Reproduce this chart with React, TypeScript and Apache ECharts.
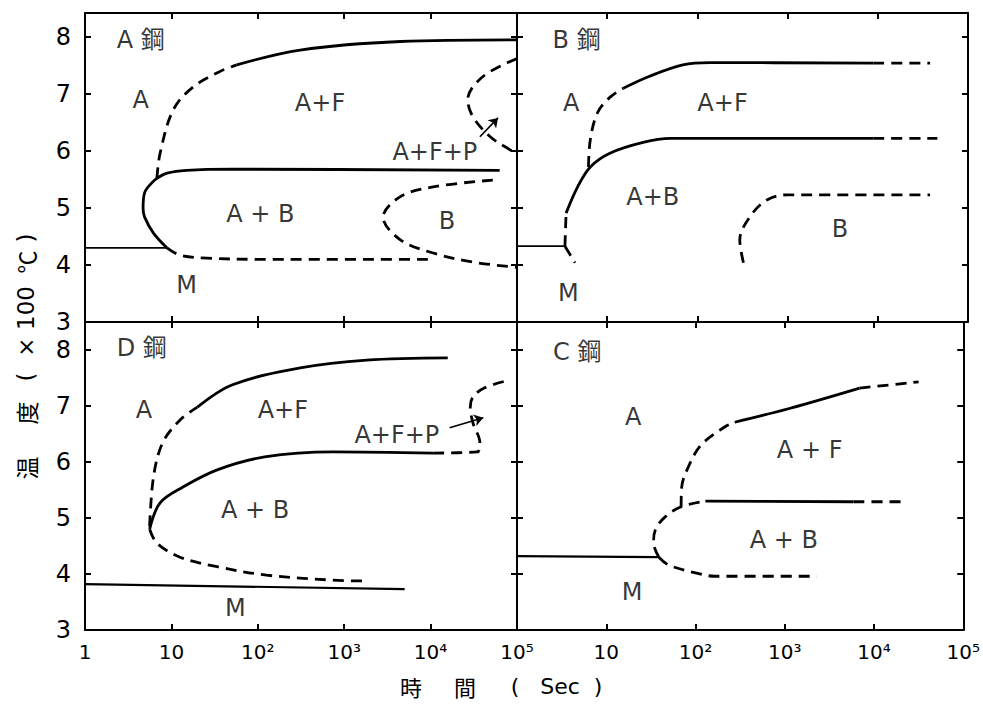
import React, { useEffect, useRef } from "react";
import * as echarts from "echarts";

// ---------- data (time in seconds, temperature in x100 °C) ----------
const TIME_TICK_LABELS = ["1", "10", "10²", "10³", "10⁴", "10⁵"];
const TEMP_TICKS = [3, 4, 5, 6, 7, 8];

// A steel
const A_MS = [[1, 4.3], [8.9, 4.3]];
const A_BS = [[8.9, 4.3], [6.2, 4.56], [4.9, 4.84], [4.7, 5.0], [4.9, 5.27], [6.0, 5.45], [6.8, 5.52], [8.9, 5.61], [15, 5.66], [51, 5.68], [63000, 5.66]];
const A_F_DASH = [[6.8, 5.52], [7.4, 5.96], [10.5, 6.72], [17.8, 7.12], [36, 7.39], [57, 7.51]];
const A_F_SOLID = [[57, 7.51], [309, 7.77], [4470, 7.92], [100000, 7.95]];
const A_BF = [[8.9, 4.3], [12.6, 4.17], [26, 4.12], [100, 4.1], [10700, 4.1]];
const A_B2 = [[52500, 5.49], [10700, 5.37], [4470, 5.2], [2820, 4.84], [4470, 4.44], [10700, 4.21], [30900, 4.05], [100000, 3.96]];
const A_P = [[100000, 7.62], [40700, 7.31], [26900, 6.9], [30900, 6.6], [49000, 6.25], [83200, 6.02], [100000, 5.95]];
const A_ARROW = [[37200, 6.25], [60300, 6.58]];
const A_LABELS = [["A 鋼", 2.3, 7.95, "left"], ["A", 4.4, 6.9], ["A+F", 525, 6.84], ["A+F+P", 11200, 5.98], ["A + B", 107, 4.9], ["B", 15500, 4.78], ["M", 15, 3.65]];

// B steel
const B_MS = [[1, 4.33], [3.4, 4.33]];
const B_LOW = [[3.4, 4.33], [4.4, 4.04]];
const B_UP = [[3.4, 4.33], [3.5, 4.91]];
const B_BS = [[3.5, 4.91], [4.7, 5.37], [6.5, 5.72], [10.7, 5.96], [25, 6.15], [50, 6.22], [8910, 6.22]];
const B_BS_TAIL = [[8910, 6.22], [45700, 6.22]];
const B_F_DASH = [[6.2, 5.72], [6.5, 6.2], [7.8, 6.67], [10.7, 6.94], [15.1, 7.1]];
const B_F_SOLID = [[15.1, 7.1], [29.5, 7.31], [69, 7.51], [138, 7.55], [8910, 7.54]];
const B_F_TAIL = [[8910, 7.54], [38000, 7.54]];
const B_B = [[324, 4.04], [295, 4.44], [380, 4.84], [589, 5.14], [977, 5.23], [38000, 5.23]];
const B_LABELS = [["B 鋼", 2.45, 7.95, "left"], ["A", 4.0, 6.84], ["A+F", 190, 6.84], ["A+B", 32, 5.19], ["B", 3800, 4.64], ["M", 3.7, 3.51]];

// D steel
const D_MS = [[1, 3.82], [5010, 3.73]];
const D_LOW = [[5.6, 4.8], [6.8, 4.55], [12.6, 4.3], [33.9, 4.13], [126, 3.98], [741, 3.89], [1820, 3.875]];
const D_BS = [[5.6, 4.8], [7.4, 5.27], [13.5, 5.55], [33.9, 5.86], [120, 6.09], [741, 6.18], [10700, 6.16]];
const D_P = [[10700, 6.16], [34700, 6.18], [37200, 6.34], [30900, 6.7], [28800, 6.98], [30900, 7.16], [41700, 7.32], [79400, 7.46]];
const D_F_DASH = [[5.6, 4.85], [6.2, 5.73], [7.9, 6.34], [12.6, 6.75], [20, 6.98]];
const D_F_SOLID = [[20, 6.98], [51, 7.38], [309, 7.68], [1820, 7.82], [15800, 7.86]];
const D_ARROW = [[16600, 6.61], [40700, 6.79]];
const D_LABELS = [["D 鋼", 2.3, 8.04, "left"], ["A", 4.8, 6.93], ["A+F", 195, 6.93], ["A+F+P", 4070, 6.48], ["A + B", 93, 5.14], ["M", 55, 3.39]];

// C steel
const C_MS = [[1, 4.32], [38.9, 4.3]];
const C_LOW = [[38.9, 4.3], [50, 4.16], [100, 4.02], [166, 3.96], [2290, 3.96]];
const C_BS_DASH = [[38.9, 4.3], [33.9, 4.55], [35.5, 4.79], [45.7, 5.02], [69, 5.2], [129, 5.3]];
const C_BS_SOLID = [[129, 5.3], [5890, 5.29]];
const C_BS_TAIL = [[5890, 5.29], [22900, 5.29]];
const C_F_DASH = [[69, 5.2], [70, 5.55], [83, 5.91], [115, 6.3], [214, 6.63], [275, 6.71]];
const C_F_SOLID = [[275, 6.71], [1150, 6.96], [6900, 7.32]];
const C_F_TAIL = [[6900, 7.32], [31600, 7.43]];
const C_LABELS = [["C 鋼", 2.5, 7.96, "left"], ["A", 20, 6.8], ["A + F", 1900, 6.21], ["A + B", 977, 4.61], ["M", 19.5, 3.68]];

// ---------- layout ----------
const GRIDS = [
  { left: 85, top: 13, width: 432, height: 309, ymax: 8.42 },  // A
  { left: 517, top: 13, width: 451, height: 309, ymax: 8.42 }, // B
  { left: 85, top: 322, width: 432, height: 308, ymax: 8.5 },  // D
  { left: 517, top: 322, width: 451, height: 308, ymax: 8.5 }, // C
];

const FONT = "'DejaVu Sans', 'Noto Sans CJK JP', sans-serif";
const CJK = "'Noto Sans CJK JP', sans-serif";

function curve(data: number[][], gi: number, dashed: boolean, width = 2.8) {
  return {
    type: "line",
    xAxisIndex: gi * 2,
    yAxisIndex: gi * 2,
    data,
    smooth: 0.35,
    showSymbol: false,
    symbol: "none",
    silent: true,
    lineStyle: { color: "#000", width, type: dashed ? [11, 7] : "solid" },
    z: 3,
  };
}

function labels(items: any[], gi: number, arrow?: number[][]) {
  const s: any = {
    type: "scatter",
    xAxisIndex: gi * 2,
    yAxisIndex: gi * 2,
    symbolSize: 1,
    silent: true,
    itemStyle: { color: "rgba(0,0,0,0)" },
    data: items.map((it) => ({
      value: [it[1], it[2]],
      name: it[0],
      label: it[3] === "left" ? { position: "right", distance: 0 } : undefined,
    })),
    label: {
      show: true,
      position: "inside",
      formatter: "{b}",
      color: "#000",
      fontSize: 24,
      fontFamily: FONT,
    },
    z: 4,
  };
  if (arrow) {
    s.markLine = {
      silent: true,
      symbol: ["none", "arrow"],
      symbolSize: 9,
      label: { show: false },
      lineStyle: { color: "#000", width: 1.6, type: "solid" },
      data: [[{ coord: arrow[0] }, { coord: arrow[1] }]],
    };
  }
  return s;
}

export default function App() {
  const ref = useRef<HTMLDivElement>(null);
  useEffect(() => {
    if (!ref.current) return;
    const chart = echarts.init(ref.current, null, { renderer: "svg" });

    const axisLine = { show: true, onZero: false, lineStyle: { color: "#000", width: 2 } };
    const axisTick = { show: true, inside: true, length: 6, lineStyle: { color: "#000", width: 2 } };

    const xAxis: any[] = [];
    const yAxis: any[] = [];
    GRIDS.forEach((g, gi) => {
      const isBottom = gi >= 2;
      const isRight = gi % 2 === 1;
      const base = {
        type: "log",
        logBase: 10,
        gridIndex: gi,
        min: 1,
        max: 100000,
        axisLine,
        axisTick,
        splitLine: { show: false },
        minorTick: { show: false },
      };
      xAxis.push({
        ...base,
        position: "bottom",
        axisLabel: {
          show: isBottom,
          color: "#000",
          fontSize: 20,
          fontFamily: FONT,
          margin: 12,
          showMinLabel: true,
          formatter: (v: number) => {
            const i = Math.round(Math.log10(v));
            if (isRight && i === 0) return "";
            return TIME_TICK_LABELS[i] ?? "";
          },
        },
      });
      xAxis.push({ ...base, position: "top", axisLabel: { show: false } });
      const ybase = {
        type: "value",
        gridIndex: gi,
        min: 3,
        max: g.ymax,
        interval: 1,
        axisLine,
        axisTick,
        splitLine: { show: false },
      };
      yAxis.push({
        ...ybase,
        position: "left",
        axisLabel: {
          show: !isRight,
          color: "#000",
          fontSize: 24,
          fontFamily: FONT,
          margin: 14,
          formatter: (v: number) => (TEMP_TICKS.includes(v) ? String(v) : ""),
        },
      });
      yAxis.push({ ...ybase, position: "right", axisLabel: { show: false } });
    });

    const series: any[] = [
      curve(A_MS, 0, false, 1.8),
      curve(A_BS, 0, false),
      curve(A_F_DASH, 0, true),
      curve(A_F_SOLID, 0, false),
      curve(A_BF, 0, true),
      curve(A_B2, 0, true),
      curve(A_P, 0, true),
      labels(A_LABELS, 0, A_ARROW),

      curve(B_MS, 1, false, 1.8),
      curve(B_LOW, 1, true),
      curve(B_UP, 1, true),
      curve(B_BS, 1, false),
      curve(B_BS_TAIL, 1, true),
      curve(B_F_DASH, 1, true),
      curve(B_F_SOLID, 1, false),
      curve(B_F_TAIL, 1, true),
      curve(B_B, 1, true),
      labels(B_LABELS, 1),

      curve(D_MS, 2, false, 2.2),
      curve(D_LOW, 2, true),
      curve(D_BS, 2, false),
      curve(D_P, 2, true),
      curve(D_F_DASH, 2, true),
      curve(D_F_SOLID, 2, false),
      labels(D_LABELS, 2, D_ARROW),

      curve(C_MS, 3, false, 2.2),
      curve(C_LOW, 3, true),
      curve(C_BS_DASH, 3, true),
      curve(C_BS_SOLID, 3, false),
      curve(C_BS_TAIL, 3, true),
      curve(C_F_DASH, 3, true),
      curve(C_F_SOLID, 3, false),
      curve(C_F_TAIL, 3, true),
      labels(C_LABELS, 3),
    ];

    const yTitle: [string, number][] = [["温", 468], ["度", 413], ["(", 377], ["×", 347], ["100", 308], ["℃", 262], [")", 238]];
    const xTitle: [string, number][] = [["時", 411], ["間", 465], ["(", 515], ["Sec", 560], [")", 598]];

    const graphic: any[] = [
      ...yTitle.map(([t, y]) => ({
        type: "text",
        x: 26,
        y,
        rotation: Math.PI / 2,
        silent: true,
        style: {
          text: t,
          fill: "#000",
          fontSize: 23,
          fontFamily: /[温度℃]/.test(t) ? CJK : FONT,
          align: "center",
          verticalAlign: "middle",
        },
      })),
      ...xTitle.map(([t, x]) => ({
        type: "text",
        x,
        y: 686,
        silent: true,
        style: {
          text: t,
          fill: "#000",
          fontSize: 22,
          lineHeight: 24,
          fontFamily: /[時間]/.test(t) ? CJK : FONT,
          align: "center",
          verticalAlign: "middle",
        },
      })),
    ];

    chart.setOption({
      animation: false,
      backgroundColor: "#fff",
      grid: GRIDS.map((g) => ({ left: g.left, top: g.top, width: g.width, height: g.height, containLabel: false })),
      xAxis,
      yAxis,
      series,
      graphic,
    });
    return () => chart.dispose();
  }, []);
  return (
    <div
      ref={ref}
      style={{ position: "fixed", left: 0, top: 0, width: 983, height: 704 }}
    />
  );
}
